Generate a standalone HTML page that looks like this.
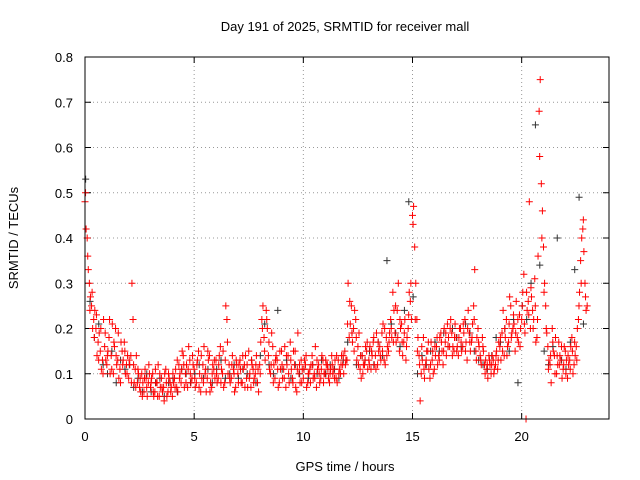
<!DOCTYPE html>
<html><head><meta charset="utf-8"><style>
body{margin:0;background:#fff}
svg{display:block;font-family:"Liberation Sans",sans-serif;font-size:13px}
</style></head><body>
<svg id="chart" width="640" height="480">
<text x="345" y="31" text-anchor="middle">Day 191 of 2025, SRMTID for receiver mall</text>
<text x="345" y="471" text-anchor="middle">GPS time / hours</text>
<text transform="translate(18,238) rotate(-90)" text-anchor="middle">SRMTID / TECUs</text>
<g id="grid"></g>
<g id="ticks"></g>
<g id="gray"></g>
<g id="red"></g>
<rect x="85" y="57" width="524" height="362" fill="none" stroke="#000"/>
</svg>
<script>
const xTicks=[0,5,10,15,20];
const yTicks=[0,0.1,0.2,0.3,0.4,0.5,0.6,0.7,0.8];
const redStart=0, redStep=0.1;
const redValues=[0.48,0.40,0.30,0.25,0.22,0.20,0.17,0.15,0.13,0.16,
0.12,0.18,0.14,0.10,0.20,0.13,0.11,0.15,0.17,0.12,
0.09,0.14,0.22,0.11,0.08,0.07,0.10,0.06,0.09,0.08,
0.07,0.10,0.06,0.08,0.05,0.09,0.07,0.11,0.06,0.08,
0.05,0.09,0.07,0.12,0.08,0.14,0.10,0.07,0.13,0.09,
0.11,0.08,0.15,0.06,0.12,0.10,0.09,0.14,0.07,0.11,
0.13,0.09,0.16,0.10,0.08,0.22,0.12,0.09,0.11,0.07,
0.10,0.13,0.08,0.12,0.09,0.15,0.07,0.11,0.10,0.08,
0.12,0.22,0.18,0.24,0.14,0.10,0.16,0.09,0.13,0.08,
0.15,0.11,0.07,0.14,0.17,0.09,0.12,0.06,0.10,0.13,
0.09,0.12,0.08,0.11,0.14,0.10,0.07,0.12,0.09,0.13,
0.10,0.12,0.08,0.14,0.11,0.09,0.13,0.10,0.12,0.15,
0.13,0.18,0.25,0.20,0.22,0.16,0.11,0.14,0.12,0.15,
0.13,0.11,0.17,0.14,0.12,0.16,0.19,0.13,0.18,0.15,
0.22,0.28,0.19,0.24,0.15,0.21,0.17,0.13,0.20,0.26,
0.45,0.38,0.22,0.14,0.10,0.18,0.12,0.15,0.09,0.13,
0.11,0.16,0.14,0.19,0.12,0.17,0.21,0.16,0.19,0.15,
0.18,0.14,0.20,0.16,0.22,0.13,0.19,0.17,0.25,0.15,
0.20,0.14,0.18,0.12,0.11,0.14,0.10,0.13,0.12,0.11,
0.16,0.19,0.14,0.22,0.17,0.25,0.20,0.15,0.18,0.23,
0.22,0.32,0.00,0.26,0.20,0.24,0.31,0.18,0.68,0.52,
0.38,0.25,0.16,0.12,0.20,0.14,0.10,0.17,0.13,0.11,
0.15,0.09,0.13,0.18,0.12,0.16,0.22,0.35,0.42,0.30,0.25];
const red2Start=0.05, red2Step=0.1;
const red2Values=[0.42,0.33,0.27,0.20,0.24,0.14,0.19,0.11,0.22,0.13,
0.15,0.10,0.21,0.16,0.12,0.09,0.17,0.13,0.10,0.14,
0.12,0.30,0.08,0.14,0.10,0.06,0.08,0.11,0.05,0.10,
0.09,0.05,0.08,0.12,0.07,0.06,0.10,0.05,0.09,0.07,
0.08,0.11,0.06,0.10,0.15,0.07,0.12,0.16,0.08,0.12,
0.07,0.13,0.10,0.09,0.16,0.06,0.13,0.08,0.12,0.09,
0.08,0.14,0.11,0.07,0.25,0.10,0.08,0.14,0.06,0.12,
0.12,0.08,0.11,0.14,0.07,0.10,0.12,0.09,0.14,0.06,
0.17,0.25,0.13,0.20,0.11,0.19,0.12,0.14,0.07,0.11,
0.09,0.16,0.12,0.08,0.11,0.15,0.07,0.19,0.08,0.11,
0.13,0.07,0.10,0.12,0.09,0.16,0.11,0.08,0.14,0.10,
0.12,0.09,0.11,0.10,0.13,0.08,0.11,0.14,0.10,0.13,
0.30,0.21,0.17,0.24,0.13,0.19,0.09,0.12,0.16,0.11,
0.16,0.14,0.12,0.19,0.15,0.13,0.21,0.12,0.16,0.19,
0.18,0.24,0.17,0.30,0.20,0.14,0.22,0.18,0.28,0.22,
0.47,0.30,0.18,0.04,0.13,0.09,0.15,0.11,0.17,0.10,
0.14,0.12,0.18,0.15,0.20,0.14,0.18,0.22,0.16,0.21,
0.16,0.20,0.15,0.19,0.17,0.24,0.15,0.21,0.33,0.18,
0.16,0.12,0.15,0.13,0.09,0.12,0.14,0.11,0.15,0.17,
0.13,0.24,0.18,0.16,0.27,0.19,0.21,0.26,0.17,0.20,
0.28,0.19,0.24,0.48,0.27,0.22,0.17,0.36,0.75,0.46,
0.30,0.19,0.13,0.08,0.15,0.18,0.12,0.14,0.09,0.16,
0.13,0.12,0.16,0.10,0.14,0.20,0.28,0.40,0.37,0.24];
const red3Start=0.025, red3Step=0.1;
const red3Values=[0.50,0.36,0.24,0.28,0.18,0.23,0.13,0.20,0.10,0.19,
0.14,0.22,0.11,0.17,0.14,0.19,0.08,0.12,0.15,0.10,
0.13,0.08,0.12,0.07,0.11,0.09,0.05,0.09,0.07,0.12,
0.08,0.06,0.11,0.05,0.10,0.07,0.04,0.08,0.10,0.06,
0.10,0.07,0.13,0.09,0.11,0.12,0.08,0.11,0.10,0.14,
0.09,0.12,0.07,0.14,0.08,0.11,0.15,0.06,0.10,0.13,
0.10,0.12,0.08,0.15,0.13,0.17,0.09,0.12,0.10,0.13,
0.08,0.11,0.14,0.07,0.12,0.09,0.13,0.08,0.12,0.11,
0.10,0.20,0.15,0.22,0.17,0.12,0.08,0.13,0.11,0.15,
0.12,0.09,0.14,0.10,0.13,0.08,0.15,0.11,0.12,0.08,
0.11,0.14,0.10,0.08,0.12,0.09,0.13,0.10,0.11,0.08,
0.13,0.11,0.10,0.12,0.09,0.14,0.10,0.12,0.14,0.12,
0.21,0.26,0.19,0.15,0.18,0.12,0.14,0.10,0.13,0.17,
0.12,0.15,0.18,0.11,0.17,0.14,0.15,0.20,0.14,0.17,
0.20,0.17,0.25,0.18,0.22,0.17,0.19,0.16,0.23,0.30,
0.43,0.22,0.15,0.12,0.16,0.11,0.13,0.17,0.12,0.15,
0.16,0.18,0.13,0.17,0.15,0.19,0.16,0.20,0.14,0.18,
0.15,0.18,0.17,0.21,0.15,0.20,0.17,0.18,0.22,0.13,
0.17,0.13,0.16,0.10,0.12,0.13,0.12,0.10,0.14,0.13,
0.18,0.15,0.20,0.14,0.21,0.18,0.23,0.19,0.22,0.16,
0.25,0.21,0.28,0.23,0.29,0.20,0.25,0.22,0.58,0.40,
0.28,0.20,0.11,0.14,0.17,0.10,0.14,0.12,0.16,0.12,
0.10,0.14,0.11,0.15,0.17,0.13,0.25,0.30,0.44,0.27];
const grayStart=0.03, grayStep=0.2;
const grayValues=[0.53,0.26,0.18,0.21,0.12,
0.10,0.15,0.08,0.13,0.11,
0.12,0.07,0.09,0.06,0.10,
0.06,0.08,0.09,0.05,0.08,
0.09,0.06,0.11,0.10,0.08,
0.10,0.12,0.09,0.11,0.08,
0.11,0.13,0.09,0.10,0.12,
0.09,0.11,0.10,0.13,0.08,
0.14,0.21,0.12,0.10,0.24,
0.11,0.13,0.09,0.12,0.10,
0.11,0.09,0.12,0.10,0.13,
0.10,0.12,0.11,0.09,0.13,
0.17,0.19,0.12,0.14,0.13,
0.15,0.12,0.17,0.14,0.35,
0.21,0.19,0.16,0.24,0.48,
0.27,0.10,0.14,0.12,0.15,
0.17,0.15,0.19,0.16,0.20,
0.18,0.16,0.21,0.19,0.15,
0.13,0.12,0.11,0.14,0.18,
0.17,0.20,0.15,0.22,0.08,
0.25,0.22,0.30,0.65,0.34,
0.15,0.12,0.16,0.40,0.13,
0.11,0.17,0.33,0.49,0.21];

const NS='http://www.w3.org/2000/svg';
const X0=85,X1=609,Y0=419,Y1=57,XMAX=24,YMAX=0.8;
const xs=v=>X0+(X1-X0)*v/XMAX;
const ys=v=>Y0-(Y0-Y1)*v/YMAX;
function mk(tag,attrs,parent){const e=document.createElementNS(NS,tag);for(const k in attrs)e.setAttribute(k,attrs[k]);parent.appendChild(e);return e;}
const grid=document.getElementById('grid'),ticks=document.getElementById('ticks');
xTicks.forEach(t=>{
  const x=xs(t);
  if(t>0){const g=mk('line',{x1:x,y1:Y0,x2:x,y2:Y1,stroke:'#999','stroke-dasharray':'1,3'},grid);
  
  }
  mk('line',{x1:x,y1:Y0,x2:x,y2:Y0-6,stroke:'#000'},ticks);
  mk('line',{x1:x,y1:Y1,x2:x,y2:Y1+6,stroke:'#000'},ticks);
  const l=mk('text',{x:x,y:Y0+22,'text-anchor':'middle'},ticks);l.textContent=t;
  
  
});
yTicks.forEach(t=>{
  const y=ys(t);
  if(t>0&&t<YMAX){const g=mk('line',{x1:X0,y1:y,x2:X1,y2:y,stroke:'#999','stroke-dasharray':'1,3'},grid);
  
  }
  mk('line',{x1:X0,y1:y,x2:X0+6,y2:y,stroke:'#000'},ticks);
  mk('line',{x1:X1,y1:y,x2:X1-6,y2:y,stroke:'#000'},ticks);
  const l=mk('text',{x:X0-12,y:y+5,'text-anchor':'end'},ticks);l.textContent=String(t);
  
  
});
function plot(vals,start,step,color,gid){
  const g=document.getElementById(gid);
  vals.forEach((v,i)=>{
    const x=xs(start+i*step),y=ys(v);
    const p=mk('path',{d:`M${x-3.5},${y}H${x+3.5}M${x},${y-3.5}V${y+3.5}`,stroke:color,'stroke-width':1,fill:'none'},g);
    
    
  });
}
plot(grayValues,grayStart,grayStep,'#333','gray');
plot(redValues,redStart,redStep,'#f00','red');
plot(red2Values,red2Start,red2Step,'#f00','red');
plot(red3Values,red3Start,red3Step,'#f00','red');
</script>
</body></html>
